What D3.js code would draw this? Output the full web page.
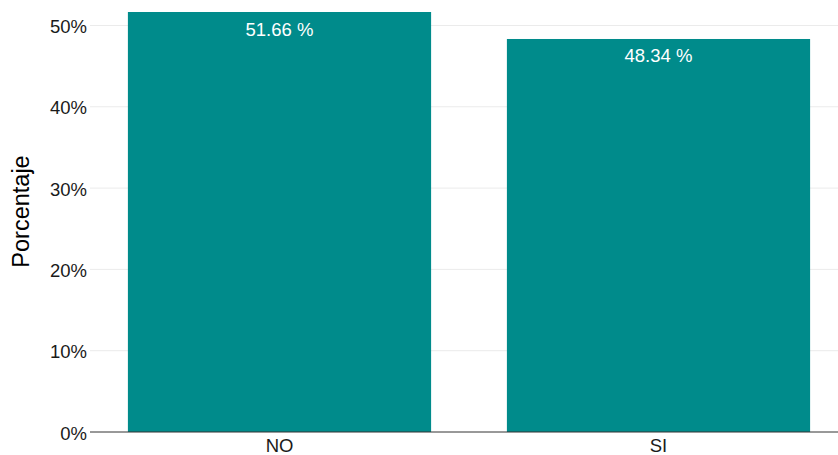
<!DOCTYPE html>
<html>
<head>
<meta charset="utf-8">
<script src="https://cdn.jsdelivr.net/npm/d3@7"></script>
<style>
  html, body { margin: 0; padding: 0; background: #fff; }
  svg { display: block; font-family: "Liberation Sans", Arial, Helvetica, sans-serif; }
</style>
</head>
<body>
<svg id="chart" width="838" height="455"></svg>
<script>
const categories = ["NO", "SI"];
const values = [51.66, 48.34];
const yTicks = [0, 10, 20, 30, 40, 50];
const yTickLabels = ["0%", "10%", "20%", "30%", "40%", "50%"];
const yTitle = "Porcentaje";
const barColor = "#008B8B";

(function () {
const W = 838, H = 455;
const mLeft = 90, mRight = 848, mBottom = 432, mTop = 12;
const FONT = "Liberation Sans, Arial, sans-serif";

const svg = d3.select("#chart");

const x = d3.scaleBand().domain(categories).range([mLeft, mRight]).paddingInner(0.2).paddingOuter(0.1);
const y = d3.scaleLinear().domain([0, d3.max(values)]).range([mBottom, mTop]);

// gridlines
svg.append("g").selectAll("line")
  .data(yTicks.filter(d => d > 0))
  .join("line")
  .attr("x1", mLeft).attr("x2", W)
  .attr("y1", d => y(d)).attr("y2", d => y(d))
  .attr("stroke", "#ebebeb").attr("stroke-width", 1);

// bars
svg.append("g").selectAll("rect")
  .data(categories)
  .join("rect")
  .attr("x", d => x(d))
  .attr("width", x.bandwidth())
  .attr("y", (d, i) => y(values[i]))
  .attr("height", (d, i) => y(0) - y(values[i]))
  .attr("fill", barColor);

// bar labels
svg.append("g").selectAll("text")
  .data(categories)
  .join("text")
  .attr("x", d => x(d) + x.bandwidth() / 2)
  .attr("y", (d, i) => y(values[i]) + 23.5)
  .attr("text-anchor", "middle")
  .attr("fill", "#ffffff")
  .attr("font-size", 18.5)
  .attr("font-family", FONT)
  .text((d, i) => values[i].toFixed(2) + " %");

// x axis
const xAxis = d3.axisBottom(x).tickSize(0).tickPadding(0);
const gx = svg.append("g").attr("transform", `translate(0,${mBottom})`).call(xAxis);
gx.select(".domain").remove();
gx.selectAll("text")
  .attr("font-size", 18.5).attr("fill", "#1a1a1a").attr("font-family", FONT)
  .attr("y", 19.5).attr("dy", null);
svg.append("line")
  .attr("x1", mLeft).attr("x2", W)
  .attr("y1", y(0)).attr("y2", y(0))
  .attr("stroke", "#333").attr("stroke-width", 1);

// y axis
const yAxis = d3.axisLeft(y).tickValues(yTicks).tickFormat((d, i) => yTickLabels[i]).tickSize(0).tickPadding(3);
const gy = svg.append("g").attr("transform", `translate(${mLeft},0)`).call(yAxis);
gy.select(".domain").remove();
gy.selectAll("text")
  .attr("font-size", 18.5).attr("fill", "#1a1a1a").attr("font-family", FONT)
  .attr("dy", "0.38em");

// y title
svg.append("text")
  .attr("transform", `translate(29,${(mTop + mBottom) / 2 - 10.5}) rotate(-90)`)
  .attr("text-anchor", "middle")
  .attr("font-size", 23.5)
  .attr("font-family", FONT)
  .attr("fill", "#000")
  .text(yTitle);
})();
</script>
</body>
</html>
